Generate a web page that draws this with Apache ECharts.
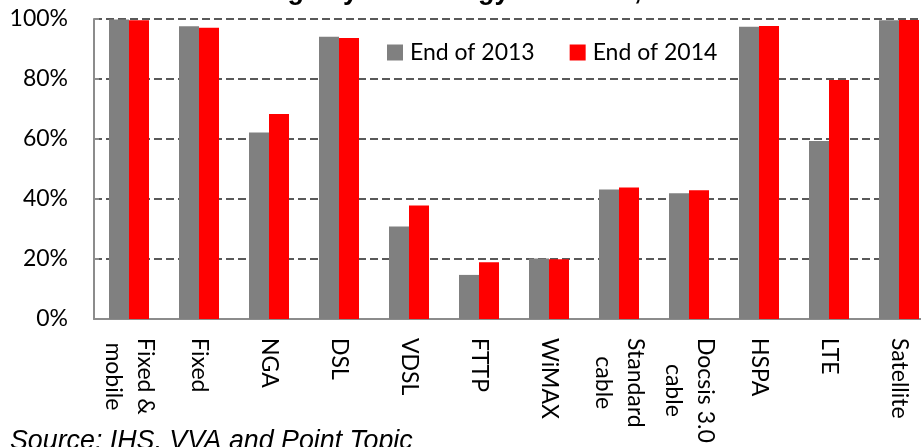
<!DOCTYPE html>
<html>
<head>
<meta charset="utf-8">
<script src="https://cdn.jsdelivr.net/npm/echarts@6/dist/echarts.min.js"></script>
<style>
  html, body { margin: 0; padding: 0; background: #fff; }
  #chart { width: 921px; height: 447px; }
</style>
</head>
<body>
<div id="chart"></div>
<script>
// technologies on the x axis
const categories = [
  "Fixed &\nmobile", "Fixed", "NGA", "DSL", "VDSL", "FTTP", "WiMAX",
  "Standard\ncable", "Docsis 3.0\ncable", "HSPA", "LTE", "Satellite"
];
// coverage in %
const end2013 = [99.8, 97.6, 62.2, 94.1, 30.8, 14.7, 20.2, 43.2, 41.9, 97.4, 59.3, 99.6];
const end2014 = [99.6, 97.1, 68.3, 93.7, 37.8, 18.9, 19.9, 43.8, 42.9, 97.7, 79.7, 99.7];
const yTicks = [0, 20, 40, 60, 80, 100];

const calibriLike = "Lato, 'Liberation Sans', sans-serif";

let myChart = echarts.init(document.getElementById("chart"));
myChart.setOption({
  animation: false,
  graphic: [
    {
      type: "text",
      left: 196,
      top: -22,
      style: {
        text: "Coverage by technology in the EU, 2013 and 2014",
        font: "bold 27px 'Liberation Sans', Arial, sans-serif",
        fill: "#000"
      }
    },
    {
      type: "text",
      left: 10,
      top: 428,
      style: {
        text: "Source: IHS, VVA and Point Topic",
        font: "italic 26.8px 'Liberation Sans', Arial, sans-serif",
        fill: "#000"
      }
    }
  ],
  legend: {
    left: 382,
    top: 36,
    icon: "rect",
    itemWidth: 16,
    itemHeight: 16,
    itemGap: 35,
    textStyle: {
      fontFamily: calibriLike,
      fontSize: 23,
      color: "#000",
      padding: [0, 0, 0, 2]
    },
    data: ["End of 2013", "End of 2014"]
  },
  grid: {
    left: 94,
    top: 19,
    width: 840,
    height: 300,
    outerBoundsMode: "none"
  },
  xAxis: {
    type: "category",
    data: categories,
    axisTick: { show: false },
    axisLine: { lineStyle: { color: "#8c8c8c", width: 2 } },
    axisLabel: {
      interval: 0,
      rotate: -90,
      margin: 19,
      color: "#000",
      formatter: function (v) {
        return v.split("\n").map(s => "{c|" + s + "}").join("\n");
      },
      rich: {
        c: {
          align: "center",
          fontFamily: calibriLike,
          fontSize: 23,
          lineHeight: 32,
          color: "#000"
        }
      }
    }
  },
  yAxis: {
    type: "value",
    min: yTicks[0],
    max: yTicks[yTicks.length - 1],
    interval: 20,
    axisLine: { show: true, lineStyle: { color: "#8c8c8c", width: 2 } },
    axisTick: { show: true, inside: true, length: 5, lineStyle: { color: "#8c8c8c", width: 2 } },
    axisLabel: {
      margin: 26,
      color: "#000",
      fontFamily: calibriLike,
      fontSize: 23,
      formatter: "{value}%"
    },
    splitLine: {
      lineStyle: { color: "#595959", width: 2, type: [8, 4] }
    }
  },
  series: [
    {
      name: "End of 2013",
      type: "bar",
      data: end2013,
      barWidth: 20,
      barGap: "0%",
      itemStyle: { color: "#808080" }
    },
    {
      name: "End of 2014",
      type: "bar",
      data: end2014,
      barWidth: 20,
      itemStyle: { color: "#ff0000" }
    }
  ]
});
</script>
</body>
</html>
